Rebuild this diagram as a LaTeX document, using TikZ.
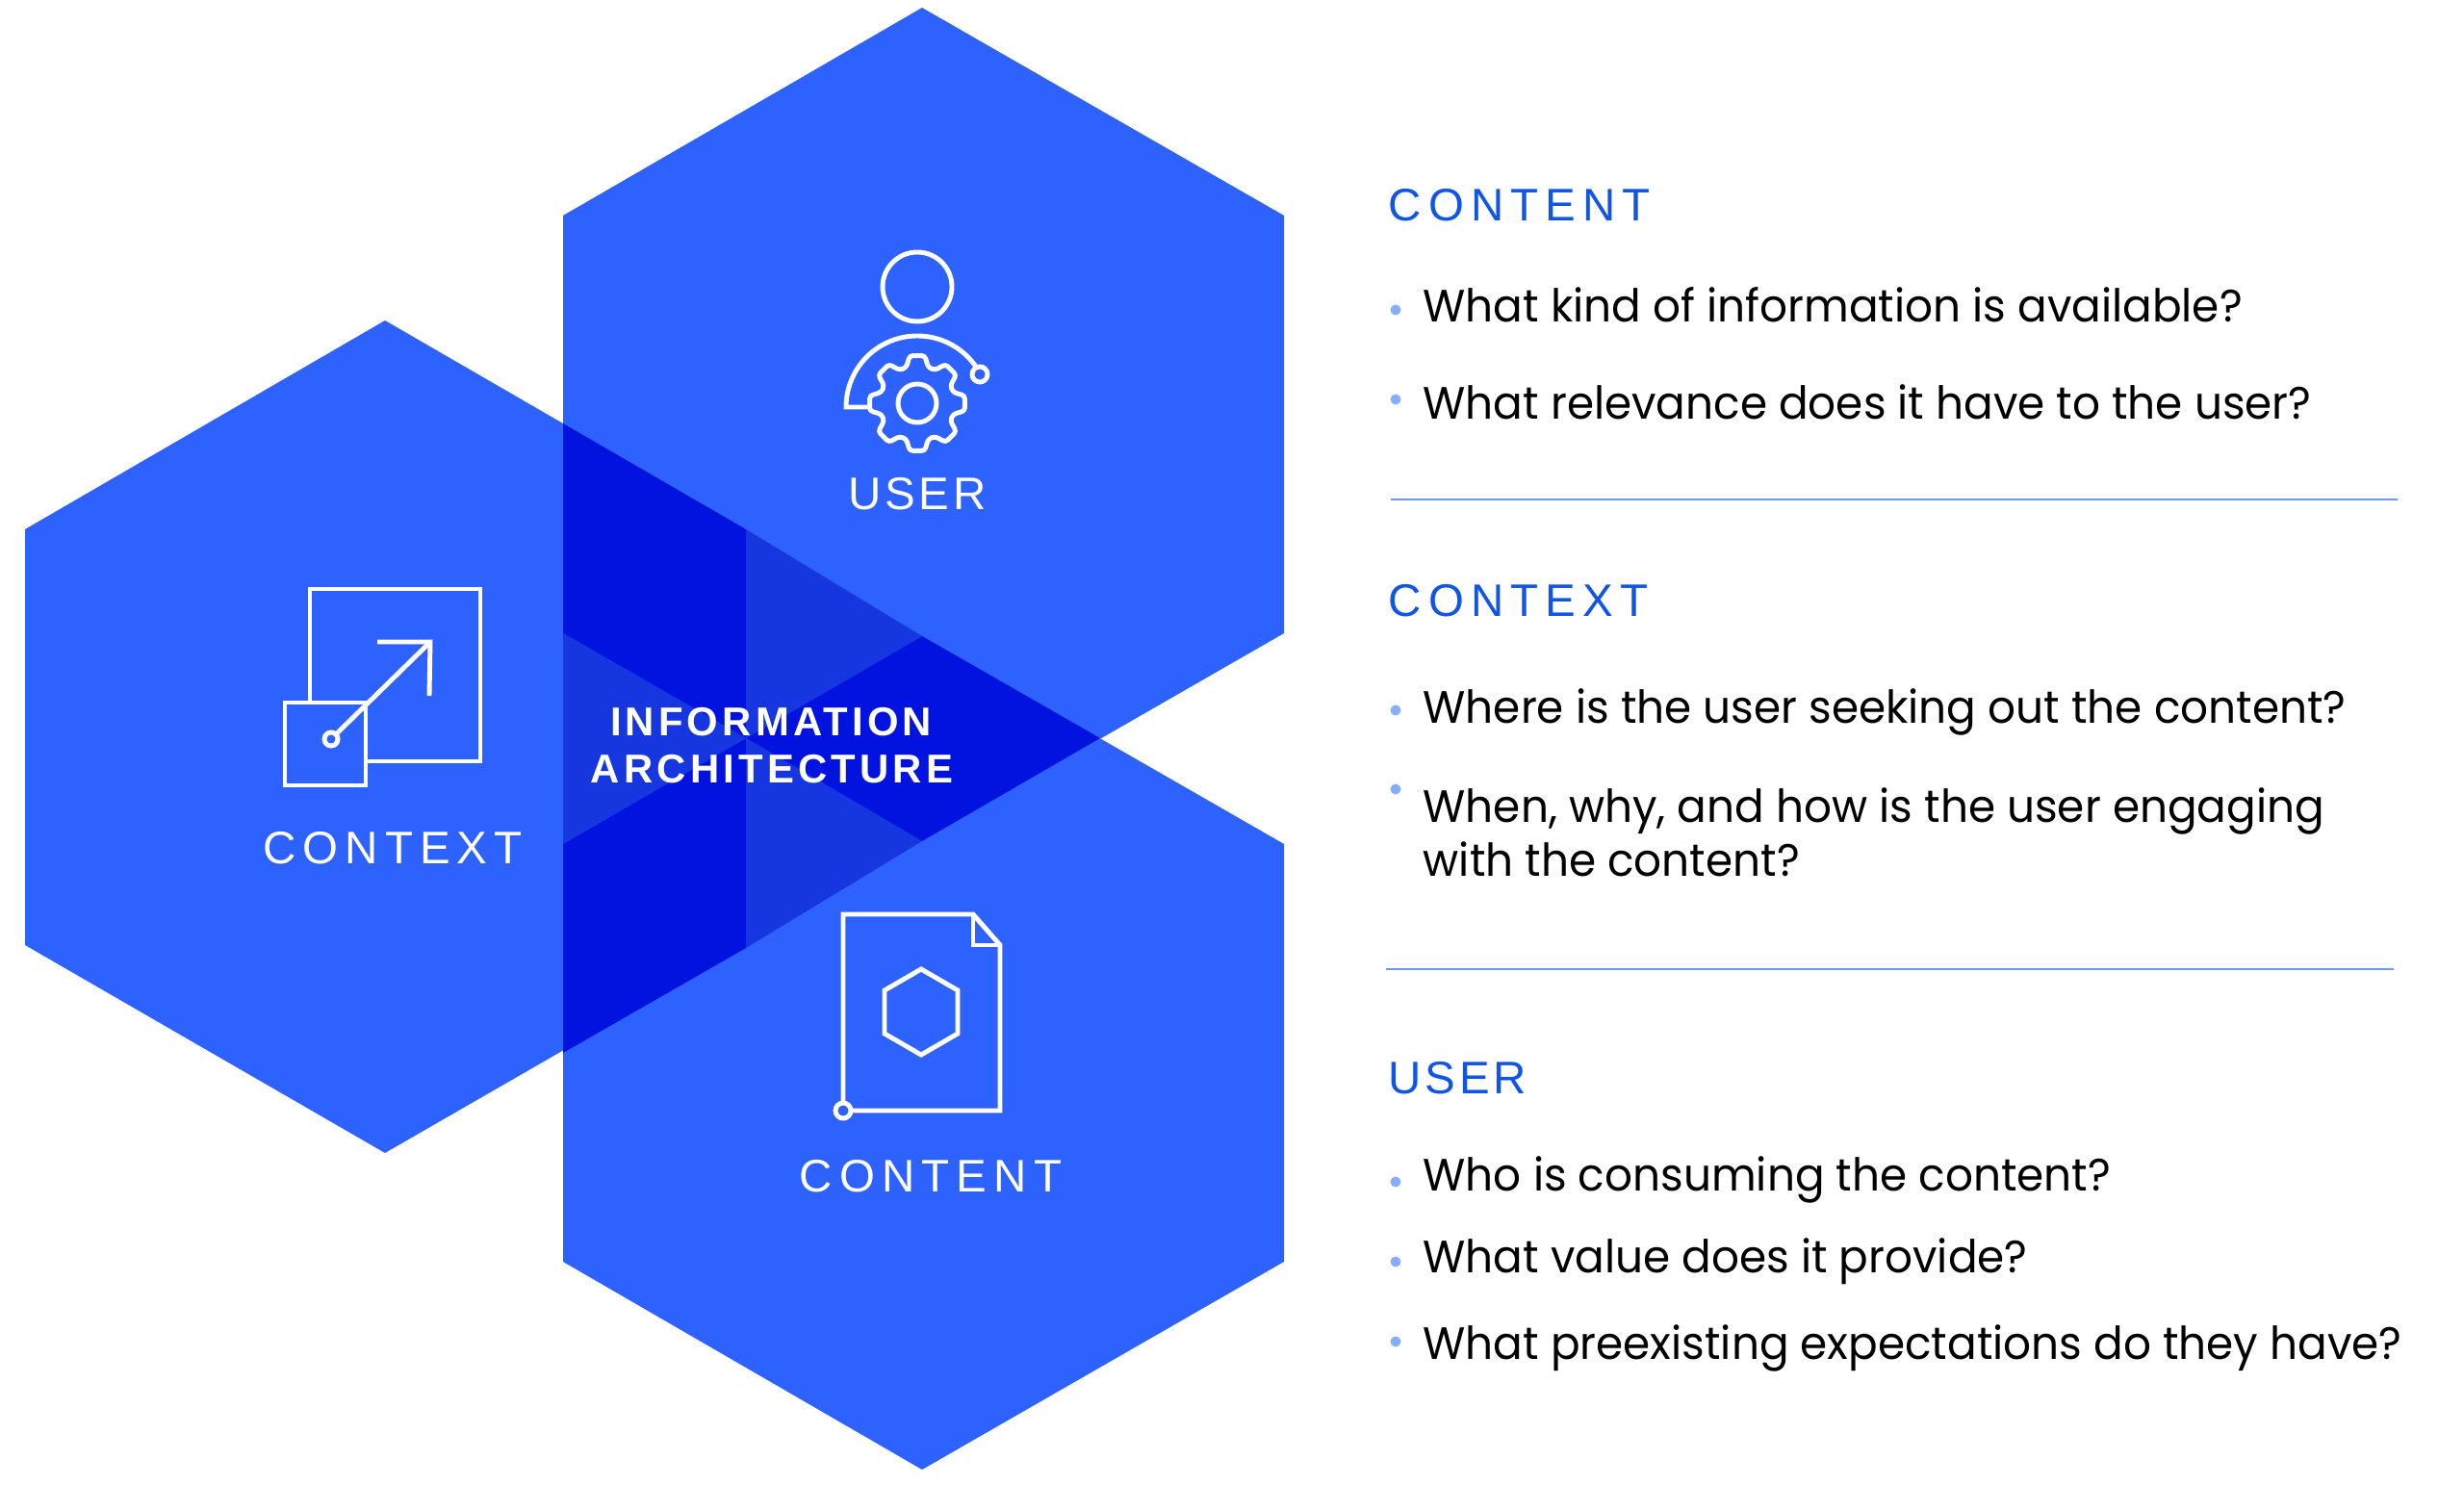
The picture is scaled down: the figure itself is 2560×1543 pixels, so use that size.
\documentclass[tikz,border=0pt]{standalone}
\usepackage{fontspec}
\setmainfont{Poppins}
\newfontfamily\bodyfont[FakeStretch=0.962]{Poppins}
\newfontfamily\capsfont[LetterSpace=15]{Liberation Sans}
\newfontfamily\capsnarrow[LetterSpace=8]{Liberation Sans}
\newfontfamily\titlefont[LetterSpace=10]{Liberation Sans}
\definecolor{hexblue}{HTML}{2D62FF}
\definecolor{hexdark}{HTML}{0213E0}
\definecolor{hexmid}{HTML}{1636E0}
\definecolor{headblue}{HTML}{1155E8}
\definecolor{dotblue}{HTML}{85AEFF}
\definecolor{ruleblue}{HTML}{6E98F8}
\tikzset{
    iconline/.style={draw=white, line width=1.4pt, line join=miter},
    biglabel/.style={inner sep=0pt, text=white, font=\capsfont\fontsize{13.5}{16}\selectfont},
    titlelabel/.style={inner sep=0pt, text=white, font=\titlefont\bfseries\fontsize{11.9}{14}\selectfont},
    heading/.style={anchor=west, inner sep=0pt, text=headblue, font=\capsfont\fontsize{13.5}{16}\selectfont},
    question/.style={anchor=base west, inner sep=0pt, text=black, font=\bodyfont\fontsize{13.4}{16.4}\selectfont},
    divider/.style={draw=ruleblue, line width=0.6pt}
}
\begin{document}
\begin{tikzpicture}[x=0.01cm, y=0.01cm, yscale=-1]
    \useasboundingbox (0,0) rectangle (2560,1543);
    \fill[hexblue] (958,8) -- (1334,224) -- (1334,658) -- (958,874) -- (585,658) -- (585,224) -- cycle;
    \fill[hexblue] (958,661) -- (1334,877) -- (1334,1311) -- (958,1527) -- (585,1311) -- (585,877) -- cycle;
    \fill[hexblue] (400,333) -- (775,550) -- (775,982) -- (400,1198) -- (26,982) -- (26,550) -- cycle;
    \fill[hexdark] (585,440) -- (775,550) -- (775,767) -- (585,658) -- cycle;
    \fill[hexdark] (585,877) -- (775,767) -- (775,985) -- (585,1094) -- cycle;
    \fill[hexdark] (958,661) -- (1143,767) -- (958,874) -- (775,767) -- cycle;
    \fill[hexmid] (585,658) -- (775,767) -- (585,877) -- cycle;
    \fill[hexmid] (775,550) -- (958,661) -- (775,767) -- cycle;
    \fill[hexmid] (775,767) -- (958,874) -- (775,985) -- cycle;

    \draw[iconline] (953,298) circle (36);
    \draw[iconline] (903,423) -- (879,423) arc[start angle=180, end angle=327, radius=74];
    \draw[iconline] (1018,389) circle (8);
    \begin{scope}[shift={(953,419)}]
        \draw[iconline, rounded corners=0.9pt] (9:50) -- (17:39)
            \foreach \a in {45,90,...,315} { -- ({\a-17}:39) -- ({\a-9}:50) -- ({\a+9}:50) -- ({\a+17}:39) }
            -- (-17:39) -- (-9:50) -- cycle;
        \draw[iconline] (0,0) circle (20);
    \end{scope}
    \node[biglabel, font=\capsnarrow\fontsize{13.5}{16}\selectfont] (userlabel) at (953,513) {USER};

    \draw[iconline] (322,730) -- (322,612) -- (499,612) -- (499,791) -- (380,791);
    \draw[iconline] (296,730) rectangle (380,816);
    \draw[iconline] (344,768) circle (7);
    \draw[iconline] (349,763) -- (446,668);
    \draw[iconline] (392,667) -- (447,667) -- (446,723);
    \node[biglabel] (contextlabel) at (408,881) {CONTEXT};

    \draw[iconline] (876,1146) -- (876,950) -- (1011,950) -- (1039,982) -- (1039,1154) -- (884,1154);
    \draw[iconline] (1011,950) -- (1011,982) -- (1039,982);
    \draw[iconline] (876,1154) circle (8);
    \draw[iconline] (957,1007) -- (995,1029) -- (995,1074) -- (957,1096) -- (919,1074) -- (919,1029) -- cycle;
    \node[biglabel] (contentlabel) at (967,1222) {CONTENT};

    \node[titlelabel] (infolabel) at (801,750) {INFORMATION};
    \node[titlelabel] (archlabel) at (802,799) {ARCHITECTURE};

    \node[heading] (contenthead) at (1442,213) {CONTENT};
    \node[heading] (contexthead) at (1442,624) {CONTEXT};
    \node[heading, font=\capsnarrow\fontsize{13.5}{16}\selectfont] (userhead) at (1442,1120) {USER};

    \foreach \y in {322,415,738,820,1228,1311,1394}
        \fill[dotblue] (1450,\y) circle (5.5);

    \node[question] (qkind) at (1478,335) {What kind of information is available?};
    \node[question] (qrelevance) at (1478,436) {What relevance does it have to the user?};
    \node[question] (qwhere) at (1478,752) {Where is the user seeking out the content?};
    \node[question] (qwhen) at (1478,855) {When, why, and how is the user engaging};
    \node[question] (qwith) at (1478,911) {with the content?};
    \node[question] (qwho) at (1478,1237) {Who is consuming the content?};
    \node[question] (qvalue) at (1478,1322) {What value does it provide?};
    \node[question] (qpre) at (1478,1412) {What preexisting expectations do they have?};

    \coordinate (ruleaw) at (1445,519);
    \coordinate (ruleae) at (2491,519);
    \coordinate (rulebw) at (1440,1007);
    \coordinate (rulebe) at (2487,1007);
    \draw[divider] (ruleaw) -- (ruleae);
    \draw[divider] (rulebw) -- (rulebe);
\end{tikzpicture}
\end{document}
